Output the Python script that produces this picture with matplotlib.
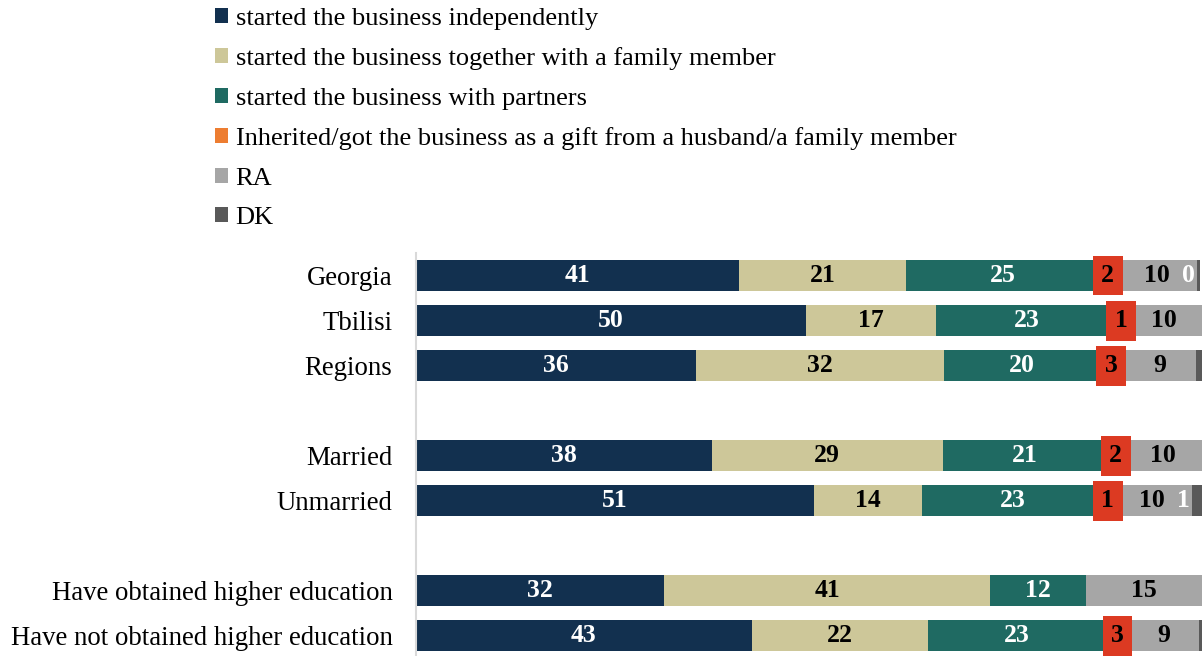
import numpy as np
import matplotlib
matplotlib.use('Agg')
import matplotlib.pyplot as plt
from matplotlib.patches import Patch

plt.rcParams['font.family'] = ['Liberation Serif', 'DejaVu Serif']

categories = ['Georgia', 'Tbilisi', 'Regions', 'Married', 'Unmarried',
              'Have obtained higher education', 'Have not obtained higher education']
slots = [0, 1, 2, 4, 5, 7, 8]

series = ['started the business independently',
          'started the business together with a family member',
          'started the business with partners',
          'Inherited/got the business as a gift from a husband/a family member',
          'RA', 'DK']

independent = [41.1, 49.6, 35.6, 37.6, 50.6, 31.6, 42.7]
family = [21.3, 16.6, 31.6, 29.4, 13.8, 41.4, 22.4]
partners = [24.6, 23.0, 19.8, 21.0, 23.0, 12.2, 22.7]
inherited = [2.0, 1.0, 2.9, 2.0, 1.2, 0.0, 2.9]
ra = [10.4, 9.8, 9.4, 10.0, 10.1, 14.8, 8.9]
dk = [0.4, 0.0, 0.7, 0.0, 1.3, 0.0, 0.4]
dk_labelled = [True, False, False, False, True, False, False]

colors = ['#12304f', '#cdc799', '#1f6a62', '#ed7d31', '#a6a6a6', '#595959']

fig = plt.figure(figsize=(12.02, 6.56), dpi=100)
ax = fig.add_axes([416 / 1202, 0.0, 1 - 416 / 1202, 1 - 253 / 656])

data = [independent, family, partners, inherited, ra, dk]
left = np.zeros(len(categories))
h = 0.70
fs = 18.5
for i, vals in enumerate(data):
    vals = np.array(vals)
    ax.barh(slots, vals, left=left, height=h, color=colors[i], edgecolor='none')
    for j, v in enumerate(vals):
        x = left[j] + v / 2
        y = slots[j]
        txt = '%.0f' % v
        if i in (0, 2):
            ax.text(x, y, txt, ha='center', va='center', color='white',
                    fontsize=fs, fontweight='bold')
        elif i == 1 or i == 4:
            ax.text(x, y, txt, ha='center', va='center', color='black',
                    fontsize=fs, fontweight='bold')
        elif i == 3 and v > 0:
            # small inherited share: label sits in a red box over the segment
            ax.text(x, y, txt, ha='center', va='center', color='black',
                    fontsize=fs, fontweight='bold',
                    bbox=dict(boxstyle='square,pad=0.33', fc='#dc3a22', ec='none'))
        elif i == 5 and dk_labelled[j]:
            ax.text(left[j] - 0.3, y, txt, ha='right', va='center', color='white',
                    fontsize=fs, fontweight='bold')
    left += vals

ax.set_xlim(0, 100)
ax.set_ylim(8.45, -0.5)
ax.set_yticks(slots)
ax.set_yticklabels(categories, fontsize=19.3)
ax.tick_params(axis='y', length=0, pad=17)
ax.set_xticks([])
for s in ['top', 'right', 'bottom']:
    ax.spines[s].set_visible(False)
ax.spines['left'].set_color('#d9d9d9')
ax.spines['left'].set_linewidth(1.5)

handles = [Patch(facecolor=c, edgecolor='none') for c in colors]
fig.legend(handles, series, loc='upper left', bbox_to_anchor=(204 / 1202, 1.004),
           frameon=False, fontsize=19, handlelength=0.5, handleheight=0.5,
           handletextpad=0.3, labelspacing=0.66, borderaxespad=0.0)

fig.savefig('out.png', dpi=100)
